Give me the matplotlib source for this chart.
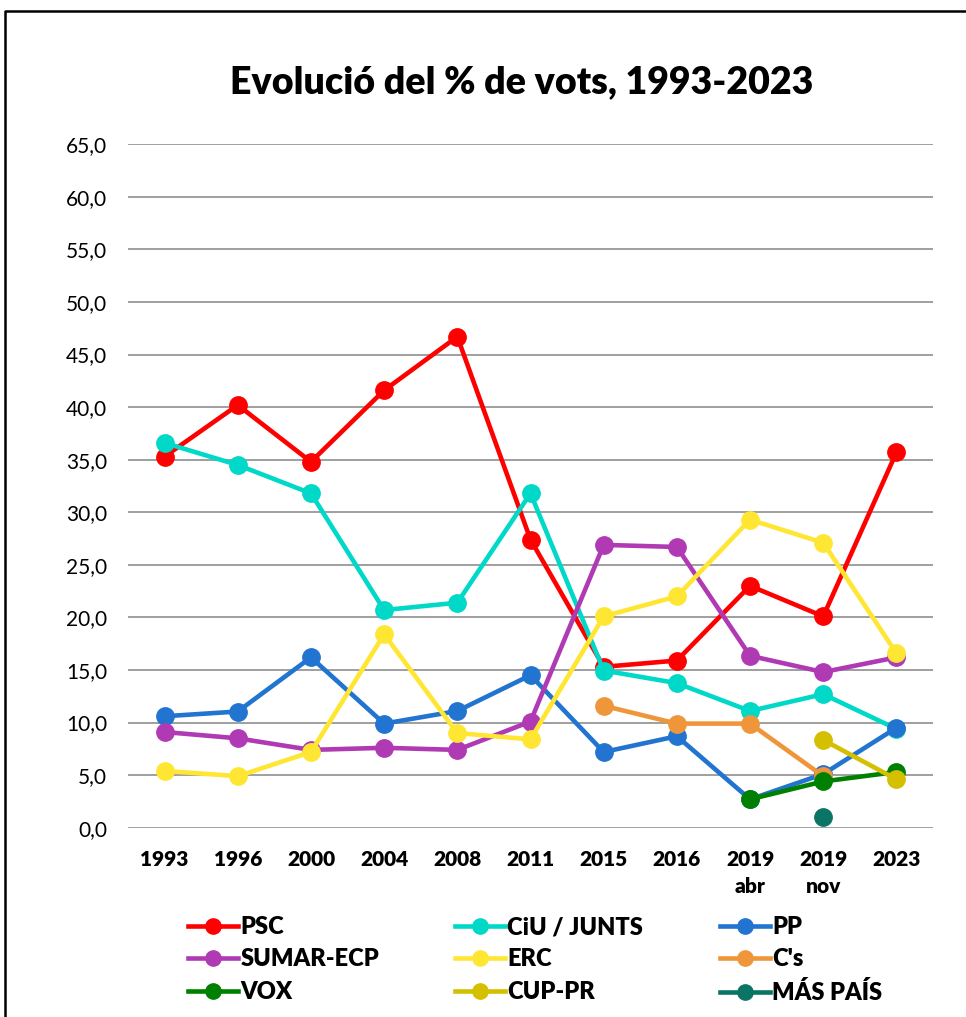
import numpy as np
import matplotlib
matplotlib.use("Agg")
import matplotlib.pyplot as plt
from matplotlib.lines import Line2D

plt.rcParams["font.family"] = ["Lato", "DejaVu Sans"]

YEARS = ["1993", "1996", "2000", "2004", "2008", "2011", "2015", "2016", "2019\nabr", "2019\nnov", "2023"]

PSC = [35.3, 40.2, 34.8, 41.6, 46.7, 27.4, 15.3, 15.9, 23.0, 20.1, 35.7]
CIU = [36.6, 34.5, 31.8, 20.7, 21.4, 31.8, 14.95, 13.75, 11.1, 12.7, 9.4]
PP = [10.6, 11.05, 16.2, 9.9, 11.1, 14.5, 7.2, 8.7, 2.7, 5.1, 9.5]
SUMAR = [9.1, 8.5, 7.4, 7.6, 7.4, 10.1, 26.9, 26.7, 16.35, 14.8, 16.2]
ERC = [5.4, 4.9, 7.2, 18.4, 9.0, 8.4, 20.1, 22.0, 29.3, 27.1, 16.6]
CS = [None, None, None, None, None, None, 11.6, 9.9, 9.9, 4.9, None]
VOX = [None, None, None, None, None, None, None, None, 2.7, 4.4, 5.3]
CUP = [None, None, None, None, None, None, None, None, None, 8.35, 4.6]
MASPAIS = [None, None, None, None, None, None, None, None, None, 1.05, None]

SERIES = [("PSC", PSC, "#ff0000"),
          ("CiU / JUNTS", CIU, "#00d8c8"),
          ("PP", PP, "#2174cf"),
          ("SUMAR-ECP", SUMAR, "#b03ab4"),
          ("ERC", ERC, "#ffe633"),
          ("C's", CS, "#f0963a"),
          ("VOX", VOX, "#008000"),
          ("CUP-PR", CUP, "#d4bf00"),
          ("MÁS PAÍS", MASPAIS, "#0b7565")]

W, H = 966, 1017
fig = plt.figure(figsize=(W / 100, H / 100), dpi=100)
ax = fig.add_axes([128 / W, 1 - 827.7 / H, (933 - 128) / W, (827.7 - 144.3) / H])

x = np.arange(len(YEARS))
for name, vals, col in SERIES:
    y = np.array([np.nan if v is None else v for v in vals], dtype=float)
    ax.plot(x, y, color=col, lw=3.3, marker="o", ms=12.5, solid_capstyle="round", zorder=3)

ax.set_xlim(-0.5, len(YEARS) - 0.5)
ax.set_ylim(0, 65)
ax.set_yticks(np.arange(0, 66, 5))
ax.set_yticklabels([f"{v:.1f}".replace(".", ",") for v in np.arange(0, 66, 5)], fontsize=15)
ax.set_xticks(x)
ax.set_xticklabels(YEARS, fontsize=15, fontweight="heavy", linespacing=1.5, va="top")
ax.tick_params(axis="both", length=0)
ax.tick_params(axis="y", pad=15)
ax.tick_params(axis="x", pad=16)
ax.grid(axis="y", color="#8f8f8f", lw=1.2, zorder=0)
ax.set_axisbelow(True)
for s in ax.spines.values():
    s.set_visible(False)

fig.text(522 / W, 1 - 82 / H, "Evolució del % de vots, 1993-2023", ha="center", va="center",
         fontsize=27, fontweight="heavy")

# legend, three columns placed by hand
cols_x = [188 / W, 455 / W, 720 / W]
for c in range(3):
    hs = []
    for name, vals, col in SERIES[c::3]:
        hs.append(Line2D([0], [0], color=col, lw=3.3, marker="o", ms=11, label=name))
    fig.legend(handles=hs, loc="upper left", bbox_to_anchor=(cols_x[c], 1 - 916 / H), frameon=False,
               prop={"weight": "heavy", "size": 17}, handlelength=2.1, handletextpad=0.12,
               labelspacing=0.44, borderaxespad=0, borderpad=0)

# outer frame (cut off at right/bottom like the source)
fig.add_artist(Line2D([4.5 / W, 4.5 / W, 1.02], [-0.02, 1 - 11 / H, 1 - 11 / H],
                      transform=fig.transFigure, color="black", lw=1.8))

fig.savefig("out.png", dpi=100)
